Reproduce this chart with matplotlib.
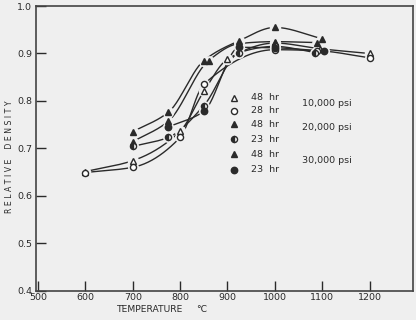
import matplotlib

matplotlib.use("Agg")
import matplotlib.pyplot as plt
import numpy as np

BG = "#efefef"
INK = "#2a2a2a"

# ---- data (temperature degC, relative density) ----
t_10k_48 = [600, 700, 800, 850, 900, 1000, 1095, 1200]
d_10k_48 = [0.651, 0.674, 0.736, 0.820, 0.888, 0.922, 0.910, 0.900]
t_10k_28 = [600, 700, 800, 850, 1000, 1090, 1200]
d_10k_28 = [0.649, 0.660, 0.723, 0.835, 0.908, 0.906, 0.891]
t_20k_48 = [700, 775, 860, 925, 1000, 1090]
d_20k_48 = [0.714, 0.757, 0.885, 0.921, 0.925, 0.923]
t_20k_23 = [700, 775, 850, 925, 1000, 1085]
d_20k_23 = [0.704, 0.723, 0.790, 0.902, 0.915, 0.902]
t_30k_48 = [700, 775, 850, 925, 1000, 1100]
d_30k_48 = [0.735, 0.776, 0.885, 0.927, 0.955, 0.931]
t_30k_23 = [775, 850, 925, 1000, 1103]
d_30k_23 = [0.745, 0.778, 0.913, 0.912, 0.905]

legend_hours = ["48  hr", "28  hr", "48  hr", "23  hr", "48  hr", "23  hr"]
pressures = ["10,000 psi", "20,000 psi", "30,000 psi"]

SERIES = [
    (t_10k_48, d_10k_48, dict(marker="^", mfc="white", ms=4.8)),
    (t_10k_28, d_10k_28, dict(marker="o", mfc="white", ms=4.4)),
    (t_20k_48, d_20k_48, dict(marker="^", mfc=INK, ms=4.2)),
    (t_20k_23, d_20k_23, dict(marker="o", mfc=INK, ms=4.4, fillstyle="left", markerfacecoloralt="white")),
    (t_30k_48, d_30k_48, dict(marker="^", mfc=INK, ms=4.8)),
    (t_30k_23, d_30k_23, dict(marker="o", mfc=INK, ms=4.6)),
]


def pchip(x, y, xs):
    """Smooth monotone-cubic curve through the points (drawing aid only)."""
    x, y = np.asarray(x, float), np.asarray(y, float)
    h = np.diff(x)
    delta = np.diff(y) / h
    m = np.zeros_like(y)
    for i in range(1, len(x) - 1):
        if delta[i - 1] * delta[i] > 0:
            w1, w2 = 2 * h[i] + h[i - 1], h[i] + 2 * h[i - 1]
            m[i] = (w1 + w2) / (w1 / delta[i - 1] + w2 / delta[i])
    m[0], m[-1] = delta[0], delta[-1]
    idx = np.clip(np.searchsorted(x, xs) - 1, 0, len(h) - 1)
    s = (xs - x[idx]) / h[idx]
    h00 = 2 * s**3 - 3 * s**2 + 1
    h10 = s**3 - 2 * s**2 + s
    h01 = -2 * s**3 + 3 * s**2
    h11 = s**3 - s**2
    return h00 * y[idx] + h10 * h[idx] * m[idx] + h01 * y[idx + 1] + h11 * h[idx] * m[idx + 1]


fig = plt.figure(figsize=(4.16, 3.2), dpi=100, facecolor=BG)
ax = fig.add_axes([0.087, 0.092, 0.906, 0.889], facecolor=BG)

for t, d, style in SERIES:
    xs = np.linspace(t[0], t[-1], 300)
    ax.plot(xs, pchip(t, d, xs), color=INK, lw=1.0, zorder=2)
for t, d, style in SERIES:
    # background halo so the curves stop short of each symbol
    ax.plot(t, d, ls="none", marker="o", ms=style["ms"] + 2.5, mfc=BG, mec=BG, zorder=3)
for t, d, style in SERIES:
    ax.plot(t, d, ls="none", color=INK, mec=INK, mew=1.0, zorder=4, **style)

# hand-lettered key
key_y = [0.807, 0.779, 0.751, 0.719, 0.687, 0.655]
for (t, d, style), hrs, ky in zip(SERIES, legend_hours, key_y):
    ax.plot([913], [ky], ls="none", color=INK, mec=INK, mew=1.0, **style)
    ax.text(950, ky, hrs, fontsize=6.8, color=INK, va="center", ha="left")
for txt, ky in zip(pressures, [0.794, 0.743, 0.675]):
    ax.text(1057, ky, txt, fontsize=6.8, color=INK, va="center", ha="left")

ax.set_xlim(496, 1292)
ax.set_ylim(0.4, 1.0)
ax.set_xticks(range(500, 1300, 100))
ax.set_xticklabels([str(v) for v in range(500, 1300, 100)])
ax.set_yticks([0.4, 0.5, 0.6, 0.7, 0.8, 0.9, 1.0])
ax.set_yticklabels(["0.4", "0.5", "0.6", "0.7", "0.8", "0.9", "1.0"])
ax.tick_params(direction="in", length=7.5, width=1.0, color=INK, labelcolor=INK,
               labelsize=6.8, pad=2)
ax.tick_params(axis="y", pad=3)
for sp in ax.spines.values():
    sp.set_color("#444444")
    sp.set_linewidth(1.2)

# axis titles sit where the draughtsman put them, left of centre
fig.text(117 / 416, 1 - 310 / 320, "TEMPERATURE", fontsize=6.6, color=INK,
         ha="left", va="center")
fig.text(196 / 416, 1 - 310 / 320, "°C", fontsize=6.6, color=INK,
         ha="left", va="center")
fig.text(10 / 416, 1 - 157 / 320, "R E L A T I V E    D E N S I T Y", fontsize=5.6,
         color=INK, rotation=90, ha="center", va="center")

fig.savefig("out.png", dpi=100, facecolor=BG)
